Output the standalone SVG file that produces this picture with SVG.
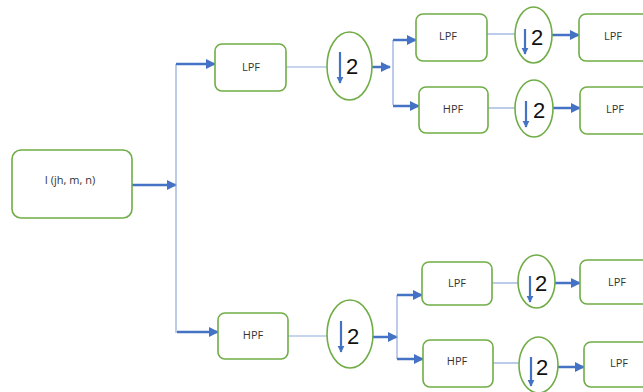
<svg xmlns="http://www.w3.org/2000/svg" width="643" height="392" viewBox="0 0 643 392">
<defs>
<marker id="ah" viewBox="0 0 10 10" refX="9" refY="5" markerWidth="4" markerHeight="4" orient="auto" markerUnits="strokeWidth">
<path d="M0,0 L10,5 L0,10 z" fill="#4472C4"/>
</marker>
<marker id="ahs" viewBox="0 0 10 10" refX="9" refY="5" markerWidth="3.2" markerHeight="3.2" orient="auto" markerUnits="strokeWidth">
<path d="M0,0 L10,5 L0,10 z" fill="#4472C4"/>
</marker>
</defs>
<style>
.box{fill:#fff;stroke:#70AD47;stroke-width:1.6}
.ell{fill:#fff;stroke:#70AD47;stroke-width:1.6}
.lbl{font-family:"Open Sans","Liberation Sans",sans-serif;font-size:11px;fill:#333;text-anchor:middle;dominant-baseline:central}
.two{font-family:"Liberation Sans",sans-serif;font-size:22px;fill:#111;text-anchor:middle;dominant-baseline:central}
.thin{stroke:#8EA9DB;stroke-width:1.2;fill:none}
.arr{stroke:#4472C4;stroke-width:2.5;fill:none;marker-end:url(#ah)}
.dn{stroke:#4472C4;stroke-width:2.2;fill:none;marker-end:url(#ahs)}
</style>
<rect width="643" height="392" fill="#fff"/>
<g id="connectors">
<path class="arr" d="M132,185 H176"/>
<path class="thin" d="M176,64 V333"/>
<path class="arr" d="M176,64 H215"/>
<path class="arr" d="M177,332 H218"/>
<path class="thin" d="M286,67 H327"/>
<path class="thin" d="M288,336 H327"/>
<path class="arr" d="M372,67 H390"/>
<path class="thin" d="M393,40 V105"/>
<path class="arr" d="M393,40 H416"/>
<path class="arr" d="M393,106 H419"/>
<path class="arr" d="M373,337 H397"/>
<path class="thin" d="M397,295 V359"/>
<path class="arr" d="M397,295 H422"/>
<path class="arr" d="M397,359 H423"/>
<path class="thin" d="M487,34 H515"/>
<path class="thin" d="M488,108 H515"/>
<path class="thin" d="M492,283 H518"/>
<path class="thin" d="M493,363 H519"/>
<path class="arr" d="M552,35 H579"/>
<path class="arr" d="M553,108 H580"/>
<path class="arr" d="M555,283 H580"/>
<path class="arr" d="M558,367 H584"/>
</g>
<g id="input"><rect class="box" x="12" y="150" width="120" height="68" rx="9"/><text class="lbl" x="70" y="179">I (jh, m, n)</text></g>
<g id="lpf1"><rect class="box" x="215" y="44" width="71" height="47" rx="7"/><text class="lbl" x="251" y="66">LPF</text></g>
<g id="ds1"><ellipse class="ell" cx="349.5" cy="66" rx="22.5" ry="34"/><path class="dn" d="M340,52 V83"/><text class="two" x="352" y="66">2</text></g>
<g id="hpf1"><rect class="box" x="218" y="313" width="70" height="46" rx="7"/><text class="lbl" x="253" y="334">HPF</text></g>
<g id="ds2"><ellipse class="ell" cx="350" cy="334" rx="23" ry="34"/><path class="dn" d="M341,321 V352"/><text class="two" x="353" y="336">2</text></g>
<g id="lpf2"><rect class="box" x="416" y="14" width="71" height="47" rx="7"/><text class="lbl" x="448" y="35">LPF</text></g>
<g id="ds3"><ellipse class="ell" cx="533.5" cy="35" rx="18.5" ry="28"/><path class="dn" d="M525,29 V54"/><text class="two" x="537" y="37">2</text></g>
<g id="out1"><rect class="box" x="579" y="14" width="72" height="47" rx="7"/><text class="lbl" x="613" y="35">LPF</text></g>
<g id="hpf2"><rect class="box" x="419" y="87" width="69" height="46" rx="7"/><text class="lbl" x="453" y="108">HPF</text></g>
<g id="ds4"><ellipse class="ell" cx="534" cy="108.5" rx="19" ry="28.5"/><path class="dn" d="M526,101 V127"/><text class="two" x="539" y="110">2</text></g>
<g id="out2"><rect class="box" x="580" y="87" width="72" height="47" rx="7"/><text class="lbl" x="615" y="108">LPF</text></g>
<g id="lpf3"><rect class="box" x="422" y="262" width="70" height="43" rx="7"/><text class="lbl" x="457" y="282">LPF</text></g>
<g id="ds5"><ellipse class="ell" cx="536.5" cy="281.5" rx="18.5" ry="26.5"/><path class="dn" d="M530,276 V302"/><text class="two" x="541" y="283">2</text></g>
<g id="out3"><rect class="box" x="580" y="260" width="72" height="44" rx="7"/><text class="lbl" x="617" y="281">LPF</text></g>
<g id="hpf3"><rect class="box" x="423" y="340" width="70" height="47" rx="7"/><text class="lbl" x="457" y="360">HPF</text></g>
<g id="ds6"><ellipse class="ell" cx="538.5" cy="365" rx="19.5" ry="28"/><path class="dn" d="M531,357 V386"/><text class="two" x="542" y="367">2</text></g>
<g id="out4"><rect class="box" x="584" y="342" width="72" height="45" rx="7"/><text class="lbl" x="619" y="362">LPF</text></g>
</svg>
